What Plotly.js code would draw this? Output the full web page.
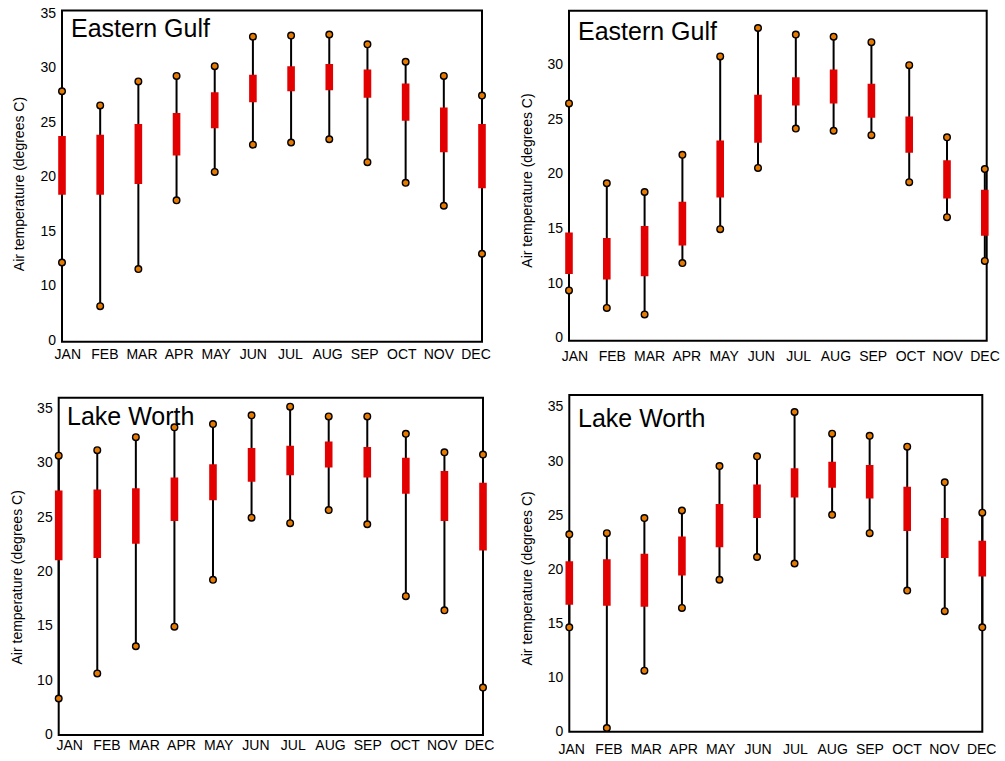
<!DOCTYPE html>
<html>
<head>
<meta charset="utf-8">
<script src="https://cdn.plot.ly/plotly-3.0.1.min.js"></script>
<style>html,body{margin:0;padding:0;background:#fff;}#chart{width:1005px;height:761px;}</style>
</head>
<body>
<div id="chart"></div>
<script>
// Month categories
const months = ['JAN','FEB','MAR','APR','MAY','JUN','JUL','AUG','SEP','OCT','NOV','DEC'];

// Y tick labels (the axis is broken: the bottom tick reads "0")
const yTickVals = [5, 10, 15, 20, 25, 30, 35];
const yTickText = ['0', '10', '15', '20', '25', '30', '35'];

const yTitleText = 'Air temperature (degrees C)';
const panelTitles = ['Eastern Gulf', 'Eastern Gulf', 'Lake Worth', 'Lake Worth'];

// Panel 1: Eastern Gulf (top left)
const gulfLeftMax = [27.8, 26.5, 28.7, 29.2, 30.1, 32.8, 32.9, 33.0, 32.1, 30.5, 29.2, 27.4];
const gulfLeftMin = [12.1, 8.1, 11.5, 17.8, 20.4, 22.9, 23.1, 23.4, 21.3, 19.4, 17.3, 12.9];
const gulfLeftQ3  = [23.7, 23.8, 24.8, 25.8, 27.7, 29.3, 30.1, 30.3, 29.8, 28.5, 26.3, 24.8];
const gulfLeftQ1  = [18.3, 18.3, 19.3, 21.9, 24.4, 26.8, 27.8, 27.9, 27.2, 25.1, 22.2, 18.9];

// Panel 2: Eastern Gulf (top right)
const gulfRightMax = [26.4, 19.1, 18.3, 21.7, 30.7, 33.3, 32.7, 32.5, 32.0, 29.9, 23.3, 20.4];
const gulfRightMin = [9.3, 7.7, 7.1, 11.8, 14.9, 20.5, 24.1, 23.9, 23.5, 19.2, 16.0, 12.0];
const gulfRightQ3  = [14.6, 14.1, 15.2, 17.4, 23.0, 27.2, 28.8, 29.5, 28.2, 25.2, 21.2, 18.5];
const gulfRightQ1  = [10.8, 10.3, 10.6, 13.4, 17.8, 22.8, 26.2, 26.4, 25.1, 21.9, 17.7, 14.3];

// Panel 3: Lake Worth (bottom left)
const worthLeftMax = [30.6, 31.1, 32.3, 33.2, 33.5, 34.3, 35.1, 34.2, 34.2, 32.6, 30.9, 30.7];
const worthLeftMin = [8.3, 10.6, 13.1, 14.9, 19.2, 24.9, 24.4, 25.6, 24.3, 17.7, 16.4, 9.3];
const worthLeftQ3  = [27.4, 27.5, 27.6, 28.6, 29.8, 31.3, 31.5, 31.9, 31.4, 30.4, 29.2, 28.1];
const worthLeftQ1  = [21.0, 21.2, 22.5, 24.6, 26.5, 28.2, 28.8, 29.5, 28.6, 27.1, 24.6, 21.9];

// Panel 4: Lake Worth (bottom right)
const worthRightMax = [23.2, 23.3, 24.7, 25.4, 29.5, 30.4, 34.5, 32.5, 32.3, 31.3, 28.0, 25.2];
const worthRightMin = [14.6, 5.3, 10.6, 16.4, 19.0, 21.1, 20.5, 25.0, 23.3, 18.0, 16.1, 14.6];
const worthRightQ3  = [20.7, 20.9, 21.4, 23.0, 26.0, 27.8, 29.3, 29.9, 29.6, 27.6, 24.7, 22.6];
const worthRightQ1  = [16.7, 16.6, 16.5, 19.4, 22.0, 24.7, 26.6, 27.5, 26.5, 23.5, 21.0, 19.3];

const panelData = [
  {max: gulfLeftMax,  min: gulfLeftMin,  q1: gulfLeftQ1,  q3: gulfLeftQ3},
  {max: gulfRightMax, min: gulfRightMin, q1: gulfRightQ1, q3: gulfRightQ3},
  {max: worthLeftMax, min: worthLeftMin, q1: worthLeftQ1, q3: worthLeftQ3},
  {max: worthRightMax,min: worthRightMin,q1: worthRightQ1,q3: worthRightQ3}
];

// ---- layout geometry (pixels in the 1005x761 page) ----
const W = 1005, H = 761;
const PAD = 10; // data area extends past the frame so end bars are not clipped
const frames = [
  {l: 62,    r: 482,   t: 10.5, b: 341.7, yr: [4.84, 35.2],  xr: [0, 11],    lr: [-0.156, 11.162], xso: 2},
  {l: 569,   r: 986.7, t: 10.7, b: 340.7, yr: [4.7, 34.88],  xr: [0, 11.05], lr: [-0.161, 11.046], xso: 5},
  {l: 58.7,  r: 483,   t: 397.7,b: 735,   yr: [4.95, 35.92], xr: [0, 11],    lr: [-0.295, 11.094], xso: 3.5},
  {l: 569.3, r: 982.3, t: 395,  b: 731.7, yr: [4.96, 36.07], xr: [0, 11],    lr: [-0.064, 11.016], xso: 7}
];
const titlePos = [[69, 28], [576, 31.3], [65, 416], [575.5, 418]];
const yTitlePos = [[19.2, 184], [526.7, 181], [16.5, 578], [527.3, 578.3]];

const ORANGE = '#E67A00';
const RED = '#E30000';
const FONT = 'Liberation Sans, Arial, sans-serif';

const px = x => x / W;
const py = y => 1 - y / H;
// widen a range so that it keeps its pixel mapping when the domain grows by PAD on both sides
const widen = (rg, l, r) => {
  const s = (r - l) / (rg[1] - rg[0]);
  return [rg[0] - PAD / s, rg[1] + PAD / s];
};

const traces = [];
const layout = {
  width: W, height: H,
  margin: {l: 0, r: 0, t: 0, b: 0, pad: 0},
  paper_bgcolor: '#ffffff', plot_bgcolor: 'rgba(0,0,0,0)',
  showlegend: false,
  font: {family: FONT, color: '#000000', size: 14},
  annotations: [],
  shapes: []
};

panelData.forEach((d, i) => {
  const k = i + 1;
  const xa = 'x' + k, ya = 'y' + k, la = 'x' + (k + 4);
  const f = frames[i];

  // whiskers: from min up to max
  traces.push({type: 'scatter', mode: 'markers', x: months, y: d.min, xaxis: xa, yaxis: ya,
    cliponaxis: false, hoverinfo: 'skip', marker: {size: 1, opacity: 0},
    error_y: {type: 'data', symmetric: false,
      array: d.max.map((v, j) => v - d.min[j]), arrayminus: d.min.map(() => 0),
      color: '#000000', thickness: 2, width: 0}});
  // red interquartile bars: from q1 up to q3
  traces.push({type: 'scatter', mode: 'markers', x: months, y: d.q1, xaxis: xa, yaxis: ya,
    cliponaxis: false, hoverinfo: 'skip', marker: {size: 1, opacity: 0},
    error_y: {type: 'data', symmetric: false,
      array: d.q3.map((v, j) => v - d.q1[j]), arrayminus: d.q1.map(() => 0),
      color: RED, thickness: 7.6, width: 0}});
  // orange end points
  traces.push({type: 'scatter', mode: 'markers', x: months.concat(months), y: d.max.concat(d.min),
    xaxis: xa, yaxis: ya, cliponaxis: false, hoverinfo: 'skip',
    marker: {size: 6.6, color: ORANGE, line: {color: '#000000', width: 1.4}}});
  // carrier for the month label axis
  traces.push({type: 'scatter', mode: 'markers', x: months, y: months.map(() => null),
    xaxis: la, yaxis: ya, hoverinfo: 'skip', marker: {opacity: 0}});

  const xdom = [px(f.l - PAD), px(f.r + PAD)];
  const ydom = [py(f.b), py(f.t)];
  layout['xaxis' + k] = {
    domain: xdom, anchor: ya, type: 'category', categoryorder: 'array', categoryarray: months,
    range: widen(f.xr, f.l, f.r), showticklabels: false, ticks: '', showgrid: false, zeroline: false,
    showline: false, fixedrange: true
  };
  layout['xaxis' + (k + 4)] = {
    overlaying: xa, anchor: ya, side: 'bottom', type: 'category', categoryorder: 'array',
    categoryarray: months, range: widen(f.lr, f.l, f.r), ticks: '', showgrid: false,
    zeroline: false, showline: false, ticklabelstandoff: f.xso,
    tickfont: {size: 14, family: FONT, color: '#000000'}, fixedrange: true
  };
  layout['yaxis' + k] = {
    domain: ydom, anchor: 'free', position: px(f.l), side: 'left',
    range: f.yr, tickmode: 'array', tickvals: yTickVals, ticktext: yTickText,
    ticks: '', showgrid: false, zeroline: false, showline: false, ticklabelstandoff: 6,
    tickfont: {size: 14, family: FONT, color: '#000000'}, fixedrange: true
  };

  // plot frame
  layout.shapes.push({type: 'rect', xref: 'paper', yref: 'paper', layer: 'below',
    x0: px(f.l), x1: px(f.r), y0: py(f.b), y1: py(f.t),
    line: {color: '#000000', width: 2}, fillcolor: 'rgba(0,0,0,0)'});

  layout.annotations.push({
    xref: 'paper', yref: 'paper', x: px(titlePos[i][0]), y: py(titlePos[i][1]),
    xanchor: 'left', yanchor: 'middle', showarrow: false, text: panelTitles[i],
    font: {size: 25, family: FONT, color: '#000000'}
  });
  layout.annotations.push({
    xref: 'paper', yref: 'paper', x: px(yTitlePos[i][0]), y: py(yTitlePos[i][1]),
    xanchor: 'center', yanchor: 'middle', showarrow: false, text: yTitleText, textangle: -90,
    font: {size: 14, family: FONT, color: '#000000'}
  });
});

Plotly.newPlot('chart', traces, layout, {displayModeBar: false, staticPlot: true});
</script>
</body>
</html>
